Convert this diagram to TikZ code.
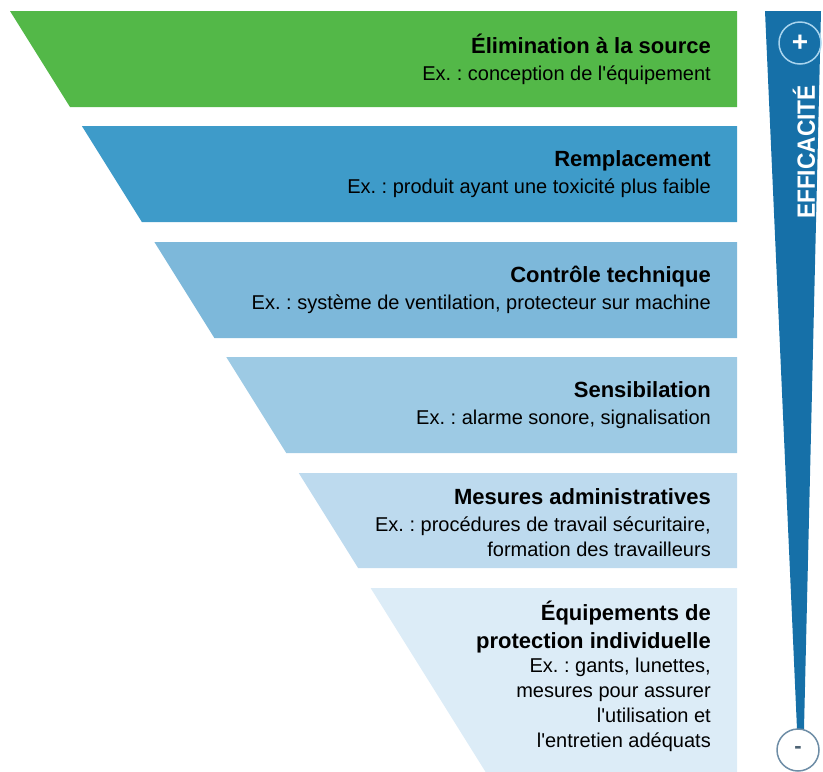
\documentclass[tikz,border=0pt]{standalone}
\usepackage{fontspec}
\setmainfont{Liberation Sans}[Ligatures=TeXOff]
\frenchspacing
\definecolor{c1}{HTML}{53B848}
\definecolor{c2}{HTML}{3E9BC9}
\definecolor{c3}{HTML}{7DB8DA}
\definecolor{c4}{HTML}{9DCAE4}
\definecolor{c5}{HTML}{BDDAEE}
\definecolor{c6}{HTML}{DCECF7}
\definecolor{barre}{HTML}{1670A8}
\definecolor{anneau}{HTML}{A8D4EE}
\definecolor{gris}{HTML}{6E8DA6}
\newcommand\titre{\bfseries\fontsize{22}{27}\selectfont}
\tikzset{txt/.style={anchor=east,align=right,inner sep=0pt}}
\begin{document}
\begin{tikzpicture}[x=1pt,y=-1pt,line join=round,font=\fontsize{20}{25}\selectfont]
	\useasboundingbox (0,0) rectangle (823,772);
	\def\k{0.625}
	% les bandes de l'entonnoir
	\foreach \t/\b/\n in {11/107/1,126/222/2,242/338/3,357/453/4,473/568/5,588/772/6}{
		\fill[c\n] ({10+\k*(\t-11)},\t) -- (737,\t) -- (737,\b) -- ({10+\k*(\b-11)},\b) -- cycle;
		\coordinate (b\n) at (711,{(\t+\b)/2});}
	\node[txt] (t1) at (b1) {{\titre Élimination à la source}\\[2pt]Ex. : conception de l'équipement};
	\node[txt] (t2) at (b2) {{\titre Remplacement}\\[2pt]Ex. : produit ayant une toxicité plus faible};
	\node[txt] (t3) at (b3) {{\titre Contrôle technique}\\[2pt]Ex. : système de ventilation, protecteur sur machine};
	\node[txt] (t4) at (b4) {{\titre Sensibilation}\\[2pt]Ex. : alarme sonore, signalisation};
	\node[txt] (t5) at ([yshift=-2pt]b5) {{\titre Mesures administratives}\\[2pt]Ex. : procédures de travail sécuritaire,\\formation des travailleurs};
	\node[txt] (t6) at ([yshift=4pt]b6) {{\titre Équipements de}\\[3pt]{\titre protection individuelle}\\[-1pt]Ex. : gants, lunettes,\\mesures pour assurer\\l'utilisation et\\l'entretien adéquats};
	% barre d'efficacite
	\fill[barre] (765,11) -- (821,11) -- (804,729) -- (797,729) -- cycle;
	\node[circle,draw=anneau,line width=1.5pt,minimum size=42pt,inner sep=0pt,text=white,font=\bfseries\fontsize{28}{28}\selectfont] (plus) at (800,43) {+};
	\node[circle,draw=gris,fill=white,line width=1.5pt,minimum size=42pt,inner sep=0pt,text=gris!70!black,font=\bfseries\fontsize{22}{22}\selectfont] (moins) at (798,750) {-};
	\node[rotate=90,text=white,font=\bfseries\fontsize{25}{25}\selectfont\addfontfeature{FakeStretch=0.91}] (eff) at (804,152) {EFFICACITÉ};
\end{tikzpicture}
\end{document}
